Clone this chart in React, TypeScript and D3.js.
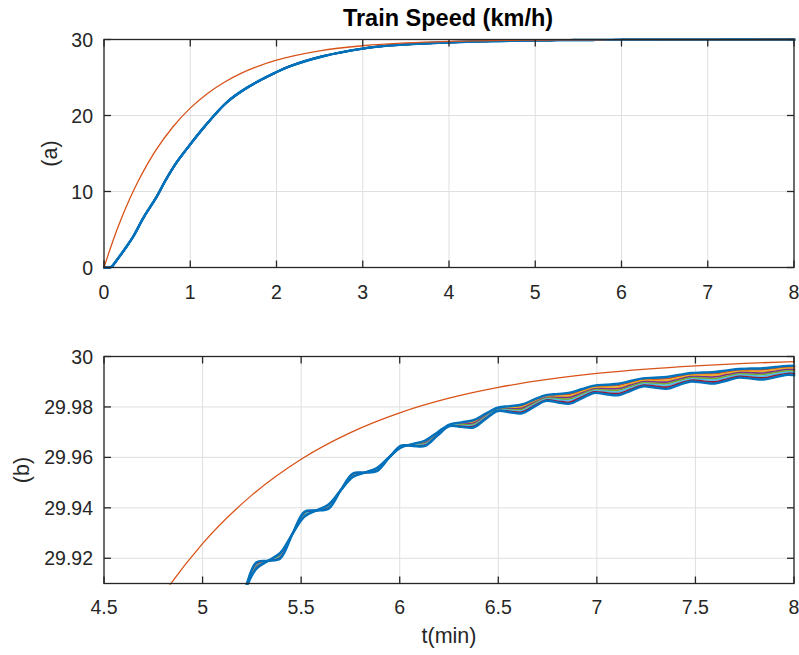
import React from 'react';
import * as d3 from 'd3';

// ---------- data ----------
const leaderTime = [0, 0.1, 0.2, 0.3, 0.4, 0.5, 0.6, 0.8, 1.0, 1.2, 1.4, 1.6, 1.8, 2.0, 2.5, 3.0, 3.5, 4.0, 4.5, 4.75, 5.0, 5.25, 5.5, 5.75, 6.0, 6.25, 6.5, 6.75, 7.0, 7.25, 7.5, 7.75, 8.0];
const leaderSpeed = [0, 3.39, 6.4, 9.07, 11.44, 13.54, 15.4, 18.52, 20.97, 22.9, 24.41, 25.61, 26.54, 27.28, 28.51, 29.18, 29.551, 29.7536, 29.86476, 29.89983, 29.92581, 29.94504, 29.95929, 29.96985, 29.97768, 29.98347, 29.98776, 29.99093, 29.99328, 29.99502, 29.99631, 29.99727, 29.99798];

const followerTime = [
  0, 0.08, 0.15, 0.27, 0.34, 0.46, 0.61, 0.71, 0.84, 1.0, 1.17, 1.42, 1.65, 1.98, 2.16, 2.54, 3.0, 3.32, 3.75, 4.2, 4.6,
  5.088, 5.149, 5.211, 5.272, 5.333, 5.394, 5.456, 5.517, 5.578, 5.639, 5.701, 5.762, 5.823, 5.884, 5.946, 6.007,
  6.068, 6.129, 6.191, 6.252, 6.313, 6.374, 6.436, 6.497, 6.558, 6.619, 6.681, 6.742, 6.803, 6.864, 6.926, 6.987,
  7.048, 7.109, 7.171, 7.232, 7.293, 7.354, 7.416, 7.477, 7.538, 7.599, 7.661, 7.722, 7.783, 7.844, 7.906, 7.967, 8.028,
];
// upper edge of the follower bundle
const followerUpper = [
  0, 0.05, 1.0, 2.9, 4.1, 6.6, 9.3, 11.4, 13.8, 16.2, 18.6, 21.7, 23.6, 25.6, 26.5, 27.8, 28.8, 29.22, 29.5, 29.7, 29.811,
  29.89251, 29.89669, 29.90669, 29.9158, 29.919, 29.92215, 29.92969, 29.93656, 29.93896, 29.94134, 29.94701, 29.95219, 29.954, 29.95579, 29.96007, 29.96397,
  29.96534, 29.96669, 29.96991, 29.97304, 29.97388, 29.97473, 29.97733, 29.97968, 29.98032, 29.98096, 29.98291, 29.98469, 29.98517, 29.98565, 29.98712, 29.98846,
  29.98882, 29.98919, 29.9903, 29.99131, 29.99158, 29.99185, 29.99269, 29.99345, 29.99365, 29.99386, 29.99449, 29.99507, 29.99522, 29.99537, 29.99585, 29.99628, 29.9964,
];
// lower edge of the follower bundle
const followerLower = [
  0, 0.05, 1.0, 2.9, 4.1, 6.6, 9.3, 11.4, 13.8, 16.2, 18.6, 21.7, 23.6, 25.6, 26.5, 27.8, 28.8, 29.22, 29.5, 29.7, 29.811,
  29.89251, 29.89376, 29.90669, 29.91835, 29.919, 29.91994, 29.92969, 29.93847, 29.93896, 29.93967, 29.94701, 29.95363, 29.954, 29.95453, 29.95987, 29.96465,
  29.96454, 29.96453, 29.96861, 29.97237, 29.97208, 29.97185, 29.97523, 29.97838, 29.97792, 29.97745, 29.98001, 29.98239, 29.98177, 29.98131, 29.98352, 29.98554,
  29.98502, 29.98464, 29.9864, 29.98812, 29.98768, 29.98718, 29.98869, 29.99008, 29.98965, 29.98928, 29.99049, 29.99161, 29.99122, 29.99087, 29.99185, 29.99274, 29.9924,
];
// relative position of each follower inside the bundle (0 = upper edge, 1 = lower edge)
const laneShare = [0, 0.14, 0.29, 0.43, 0.57, 0.71, 0.86, 1];
const followerColors = ['#0072BD', '#D95319', '#EDB120', '#7E2F8E', '#77AC30', '#4DBEEE', '#A2142F', '#0072BD'];
const leaderColor = '#D95319';

const topXTicks = [0, 1, 2, 3, 4, 5, 6, 7, 8];
const topYTicks = [0, 10, 20, 30];
const bottomXTicks = [4.5, 5, 5.5, 6, 6.5, 7, 7.5, 8];
const bottomYTicks = [29.92, 29.94, 29.96, 29.98, 30];

const titleText = 'Train Speed (km/h)';
const xLabelText = 't(min)';

// ---------- styling ----------
const W = 799;
const H = 655;
const FONT = '"Liberation Sans", Arial, Helvetica, sans-serif';
const INK = '#262626';
const GRID = '#dfdfdf';
const TICK_FS = 19.5;
const LABEL_FS = 21.5;

type PanelProps = {
  id: string;
  left: number; right: number; top: number; bottom: number;
  xDomain: [number, number]; yDomain: [number, number];
  xTicks: number[]; yTicks: number[];
  xTickBaseline: number;
  yLabel: string; yLabelX: number;
};

function Panel(p: PanelProps) {
  const x = d3.scaleLinear().domain(p.xDomain).range([p.left, p.right]);
  const y = d3.scaleLinear().domain(p.yDomain).range([p.bottom, p.top]);
  const mk = (ts: number[], vs: number[]) =>
    d3.line<number>().x((_, i) => x(ts[i])).y((v) => y(v)).curve(d3.curveCatmullRom.alpha(0.5))(vs) || '';
  const mkLeader = (ts: number[], vs: number[]) =>
    d3.line<number>().x((_, i) => x(ts[i])).y((v) => y(v)).curve(d3.curveMonotoneX)(vs) || '';
  const followers = laneShare.map((f) => followerUpper.map((u, i) => u + (followerLower[i] - u) * f));
  const tl = 7;
  const order = [1, 2, 3, 4, 5, 6, 0, 7];
  const pad = 1.2;
  return (
    <g>
      <defs>
        <clipPath id={p.id}>
          <rect x={p.left - pad} y={p.top - pad} width={p.right - p.left + 2 * pad} height={p.bottom - p.top + 2 * pad} />
        </clipPath>
      </defs>
      {p.xTicks.map((t) => (
        <line key={'gx' + t} x1={x(t)} x2={x(t)} y1={p.top} y2={p.bottom} stroke={GRID} strokeWidth={1} />
      ))}
      {p.yTicks.map((t) => (
        <line key={'gy' + t} x1={p.left} x2={p.right} y1={y(t)} y2={y(t)} stroke={GRID} strokeWidth={1} />
      ))}
      <g clipPath={`url(#${p.id})`} fill="none" strokeLinejoin="round" strokeLinecap="round">
        {order.map((k) => (
          <path key={'f' + k} d={mk(followerTime, followers[k])} stroke={followerColors[k]}
            strokeWidth={k === 0 || k === 7 ? 2.4 : 1.8} />
        ))}
        <path d={mkLeader(leaderTime, leaderSpeed)} stroke={leaderColor} strokeWidth={1.3} />
      </g>
      <rect x={p.left} y={p.top} width={p.right - p.left} height={p.bottom - p.top} fill="none" stroke={INK} strokeWidth={1.3} />
      {p.xTicks.map((t) => (
        <g key={'tx' + t}>
          <line x1={x(t)} x2={x(t)} y1={p.bottom} y2={p.bottom - tl} stroke={INK} strokeWidth={1.3} />
          <line x1={x(t)} x2={x(t)} y1={p.top} y2={p.top + tl} stroke={INK} strokeWidth={1.3} />
          <text x={x(t)} y={p.xTickBaseline} textAnchor="middle" fontSize={TICK_FS} fill={INK} fontFamily={FONT}>{String(t)}</text>
        </g>
      ))}
      {p.yTicks.map((t) => (
        <g key={'ty' + t}>
          <line x1={p.left} x2={p.left + tl} y1={y(t)} y2={y(t)} stroke={INK} strokeWidth={1.3} />
          <line x1={p.right} x2={p.right - tl} y1={y(t)} y2={y(t)} stroke={INK} strokeWidth={1.3} />
          <text x={p.left - 11} y={y(t) + 7} textAnchor="end" fontSize={TICK_FS} fill={INK} fontFamily={FONT}>{String(t)}</text>
        </g>
      ))}
      <text transform={`translate(${p.yLabelX},${(p.top + p.bottom) / 2}) rotate(-90)`} textAnchor="middle"
        dominantBaseline="central" fontSize={LABEL_FS} fill={INK} fontFamily={FONT}>{p.yLabel}</text>
    </g>
  );
}

export default function App() {
  return (
    <svg width={W} height={H} viewBox={`0 0 ${W} ${H}`}
      style={{ position: 'absolute', left: 0, top: 0, background: '#fff', display: 'block' }}>
      <rect x={0} y={0} width={W} height={H} fill="#fff" />
      <text x={448} y={26} textAnchor="middle" fontSize={23.5} fontWeight="bold" fill="#000" fontFamily={FONT}>{titleText}</text>
      <Panel id="clipA" left={104} right={794} top={39.5} bottom={267.5} xDomain={[0, 8]} yDomain={[0, 30]}
        xTicks={topXTicks} yTicks={topYTicks} xTickBaseline={299} yLabel="(a)" yLabelX={50} />
      <Panel id="clipB" left={104} right={794} top={356.5} bottom={583.5} xDomain={[4.5, 8]} yDomain={[29.91, 30]}
        xTicks={bottomXTicks} yTicks={bottomYTicks} xTickBaseline={614} yLabel="(b)" yLabelX={22} />
      <text x={449} y={643} textAnchor="middle" fontSize={LABEL_FS} fill={INK} fontFamily={FONT}>{xLabelText}</text>
    </svg>
  );
}
